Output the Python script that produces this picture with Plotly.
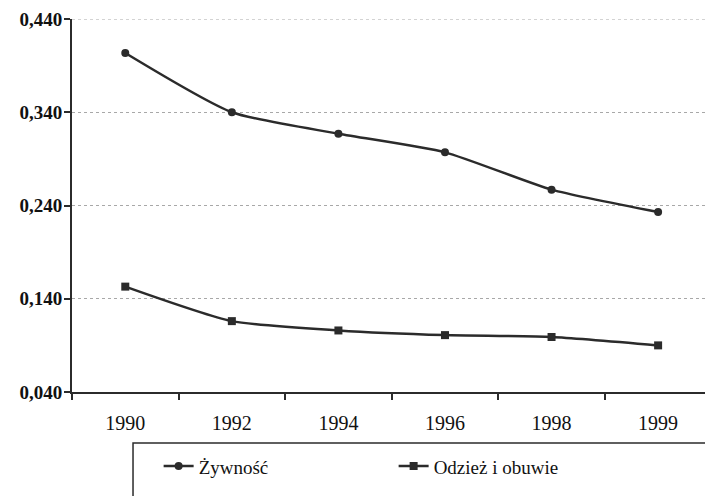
import plotly.graph_objects as go

# data
years = ["1990", "1992", "1994", "1996", "1998", "1999"]
zywnosc = [0.4035, 0.340, 0.317, 0.297, 0.257, 0.233]
odziez = [0.153, 0.116, 0.106, 0.101, 0.099, 0.090]
y_ticks = [0.040, 0.140, 0.240, 0.340, 0.440]

serif = "Liberation Serif, Times New Roman, serif"
ink = "#2b2b2b"
grid = "#a8a8a8"

fig = go.Figure()

fig.add_trace(go.Scatter(
    x=years, y=zywnosc, name="Żywność",
    mode="lines+markers",
    line=dict(color=ink, width=2.5, shape="spline", smoothing=0.6),
    marker=dict(symbol="circle", size=8, color=ink),
))

fig.add_trace(go.Scatter(
    x=years, y=odziez, name="Odzież i obuwie",
    mode="lines+markers",
    line=dict(color=ink, width=2.5, shape="spline", smoothing=0.6),
    marker=dict(symbol="square", size=8, color=ink),
))

# top gridline (plotly skips the one sitting on the range edge)
fig.add_hline(y=y_ticks[-1], line=dict(color=grid, width=1, dash="dot"))

# legend frame, running off the right edge as in the scan
fig.add_shape(type="rect", xref="paper", yref="paper",
              x0=0.0964, x1=1.02, y0=-0.32, y1=-0.1367,
              line=dict(color=ink, width=1.5), fillcolor="rgba(0,0,0,0)")

fig.update_layout(
    width=705, height=496,
    margin=dict(l=72, r=0, t=19, b=104),
    paper_bgcolor="white", plot_bgcolor="white",
    separators=", ",
    font=dict(family=serif, color="#111", size=19),
    showlegend=True,
    legend=dict(
        orientation="h", xref="container", yref="container",
        x=0.225, y=0.06, xanchor="left", yanchor="middle",
        entrywidth=190, entrywidthmode="pixels",
        font=dict(family=serif, size=19, color="#111"),
        bgcolor="rgba(0,0,0,0)",
    ),
    xaxis=dict(
        type="category", range=[-0.5, 5.44],
        showline=True, linecolor=ink, linewidth=2,
        ticks="outside", tickson="boundaries", ticklen=6,
        tickcolor=ink, tickwidth=2,
        showgrid=False, ticklabelstandoff=12,
        tickfont=dict(family=serif, size=20),
    ),
    yaxis=dict(
        range=[0.040, 0.440],
        tickvals=y_ticks, tickformat=".3f",
        showline=True, linecolor=ink, linewidth=2,
        ticks="outside", ticklen=6, tickcolor=ink, tickwidth=2,
        showgrid=True, gridcolor=grid, gridwidth=1, griddash="dot",
        zeroline=False, ticklabelstandoff=-2,
        tickfont=dict(family=serif, size=19, weight="bold"),
    ),
)

# page has a default 8px body margin; drop it so the figure sits at 0,0
fig.write_html("out.html", config={"displayModeBar": False},
               post_script="document.body.style.margin='0';")
